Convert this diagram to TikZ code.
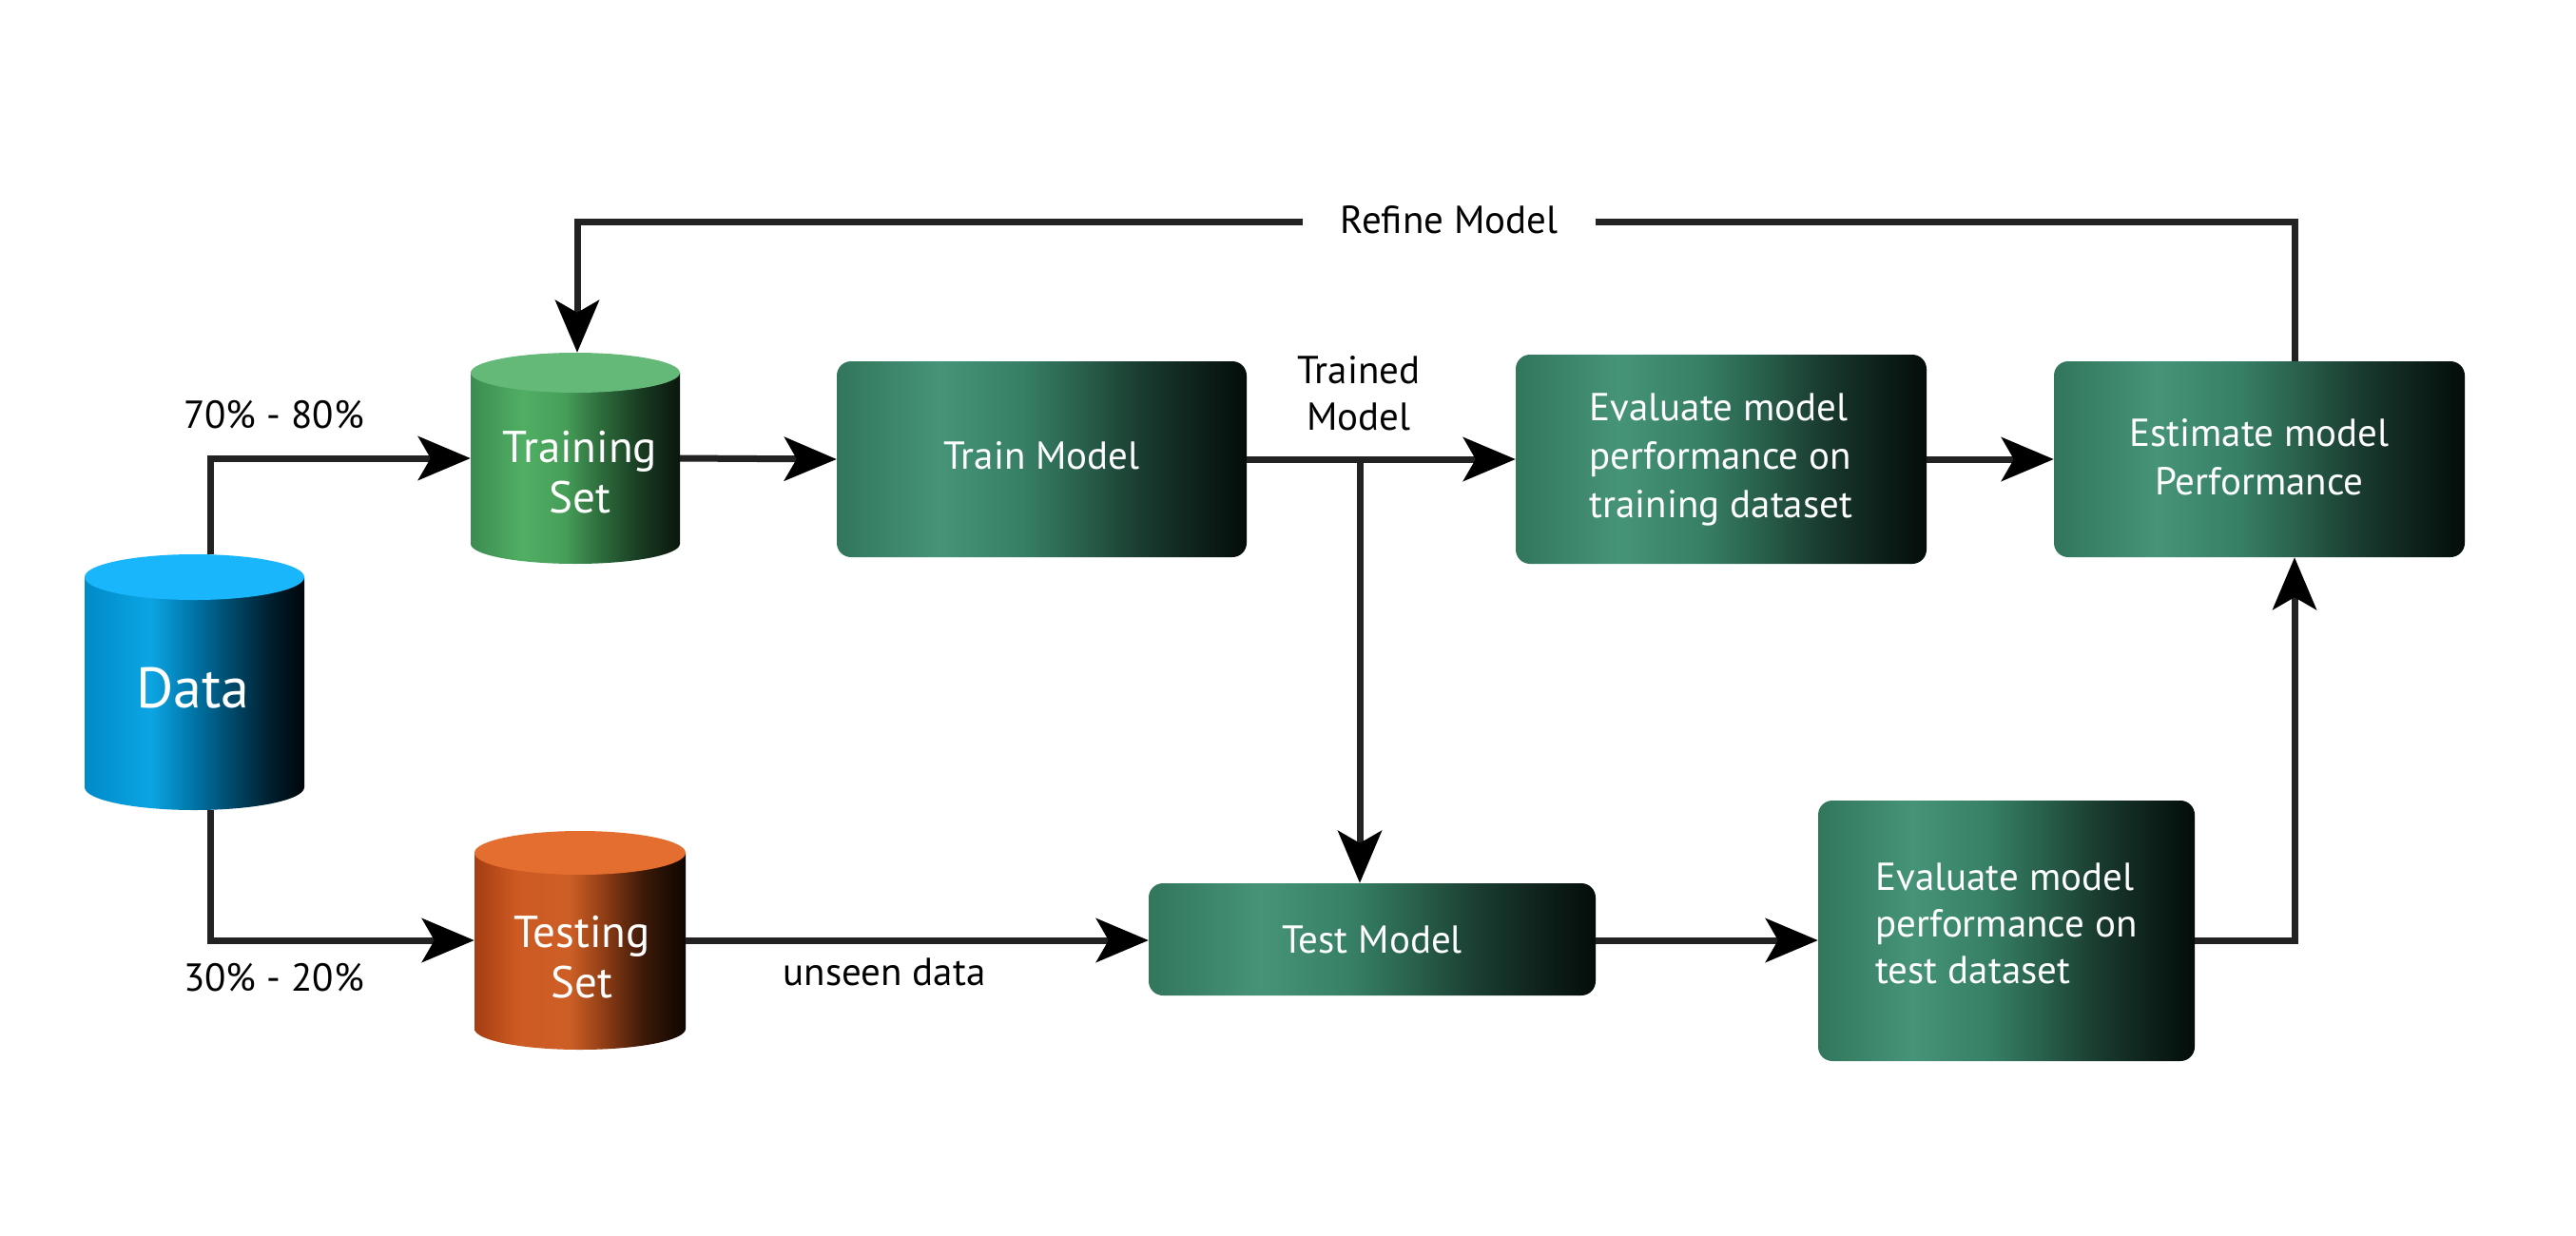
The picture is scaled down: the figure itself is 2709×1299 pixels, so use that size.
\documentclass[tikz,border=0pt]{standalone}
\usepackage{fontspec}
\setmainfont{PT Sans}
\usetikzlibrary{arrows.meta}

\definecolor{linec}{RGB}{34,34,34}
\definecolor{bx0}{RGB}{50,118,92}
\definecolor{bx1}{RGB}{70,148,120}
\definecolor{bx2}{RGB}{55,128,102}
\definecolor{bx3}{RGB}{40,95,75}
\definecolor{bx4}{RGB}{25,58,46}
\definecolor{bx5}{RGB}{12,30,24}
\definecolor{bx6}{RGB}{4,12,10}
\definecolor{bl0}{RGB}{0,138,200}
\definecolor{bl1}{RGB}{12,165,228}
\definecolor{bl2}{RGB}{0,115,165}
\definecolor{bl3}{RGB}{0,65,95}
\definecolor{bl4}{RGB}{0,30,45}
\definecolor{bl5}{RGB}{0,5,10}
\definecolor{bltop}{RGB}{26,182,252}
\definecolor{gr0}{RGB}{60,140,80}
\definecolor{gr1}{RGB}{80,175,100}
\definecolor{gr2}{RGB}{70,158,88}
\definecolor{gr3}{RGB}{45,108,60}
\definecolor{gr4}{RGB}{25,62,35}
\definecolor{gr5}{RGB}{10,22,12}
\definecolor{grtop}{RGB}{100,185,120}
\definecolor{or0}{RGB}{165,62,18}
\definecolor{or1}{RGB}{205,90,35}
\definecolor{or2}{RGB}{205,95,38}
\definecolor{or3}{RGB}{140,60,20}
\definecolor{or4}{RGB}{60,25,8}
\definecolor{or5}{RGB}{15,5,0}
\definecolor{ortop}{RGB}{228,110,48}

\pgfdeclarehorizontalshading{boxshade}{100bp}{color(0bp)=(bx0); color(25bp)=(bx0); color(37.5bp)=(bx1); color(47.5bp)=(bx2); color(55bp)=(bx3); color(62.5bp)=(bx4); color(70bp)=(bx5); color(75bp)=(bx6); color(100bp)=(bx6)}
\pgfdeclarehorizontalshading{blueshade}{100bp}{color(0bp)=(bl0); color(25bp)=(bl0); color(40bp)=(bl1); color(50bp)=(bl2); color(60bp)=(bl3); color(67.5bp)=(bl4); color(75bp)=(bl5); color(100bp)=(bl5)}
\pgfdeclarehorizontalshading{greenshade}{100bp}{color(0bp)=(gr0); color(25bp)=(gr0); color(37.5bp)=(gr1); color(47.5bp)=(gr2); color(56bp)=(gr3); color(65bp)=(gr4); color(75bp)=(gr5); color(100bp)=(gr5)}
\pgfdeclarehorizontalshading{orangeshade}{100bp}{color(0bp)=(or0); color(25bp)=(or0); color(35bp)=(or1); color(47.5bp)=(or2); color(56bp)=(or3); color(65bp)=(or4); color(75bp)=(or5); color(100bp)=(or5)}

\newcommand\boxfont{\fontsize{41}{51}\selectfont}
\newcommand\tightfont{\fontsize{41}{49}\selectfont}
\newcommand\cylfont{\fontsize{47}{53}\selectfont}
\newcommand\lblfont{\fontsize{41}{49}\selectfont}
\newcommand\bigfont{\fontsize{60}{70}\selectfont}

\begin{document}
\begin{tikzpicture}[x=1pt,y=-1pt,
  conn/.style={line width=7pt, draw=linec, -{Stealth[length=55pt,width=46pt,inset=13pt,color=black]}},
  gbox/.style={rounded corners=15pt, shading=boxshade, text=white, inner sep=0pt, align=left, font=\boxfont},
  lbl/.style={text=black, font=\lblfont, inner sep=0pt, align=center},
  cyltext/.style={text=white, inner sep=0pt, align=center},
  cylarea/.style={draw=none, inner sep=0pt}]

\useasboundingbox[fill=white] (0,0) rectangle (2709,1299);

% ---------- cylinders ----------
% Data
\shade[shading=blueshade] (89,607) -- (89,828) arc[start angle=180,end angle=360,x radius=115.5pt,y radius=24pt] -- (320,607) -- cycle;
\fill[bltop] (204.5,607) ellipse [x radius=115.5pt, y radius=24pt];
\node[cylarea, minimum width=231pt, minimum height=269pt] (data) at (204.5,717.5) {};
\node[cyltext, font=\bigfont] (datalbl) at (203,724) {Data};

% Training Set
\shade[shading=greenshade] (495,392) -- (495,572) arc[start angle=180,end angle=360,x radius=110pt,y radius=21pt] -- (715,392) -- cycle;
\fill[grtop] (605,392) ellipse [x radius=110pt, y radius=21pt];
\node[cylarea, minimum width=220pt, minimum height=222pt] (trainset) at (605,482) {};
\node[cyltext, font=\cylfont] (trainsetlbl) at (610,497) {Training\\Set};

% Testing Set
\shade[shading=orangeshade] (499,897) -- (499,1082) arc[start angle=180,end angle=360,x radius=111pt,y radius=22pt] -- (721,897) -- cycle;
\fill[ortop] (610,897) ellipse [x radius=111pt, y radius=23pt];
\node[cylarea, minimum width=222pt, minimum height=230pt] (testset) at (610,989) {};
\node[cyltext, font=\cylfont] (testsetlbl) at (612,1007) {Testing\\Set};

% ---------- boxes ----------
\node[gbox, text depth=8pt, minimum width=431pt, minimum height=206pt] (train) at (1095.5,483) {Train Model};
\node[gbox, minimum width=432pt, minimum height=220pt] (evaltrain) at (1810,483) {Evaluate model\\performance on\\training dataset};
\node[gbox, align=center, text depth=6pt, minimum width=432pt, minimum height=206pt] (estimate) at (2376,483) {Estimate model\\Performance};
\node[gbox, minimum width=470pt, minimum height=118pt] (testmodel) at (1443,988) {Test Model};
\node[gbox, font=\tightfont, text depth=16pt, minimum width=396pt, minimum height=274pt] (evaltest) at (2110,979) {Evaluate model\\performance on\\test dataset};

% ---------- connectors ----------
\draw[conn] ([xshift=16.5pt]data.north) |- (trainset.west);
\draw[conn] ([xshift=16.5pt]data.south) |- (testset.west);
\draw[conn] (trainset.east) -- (train.west);
\draw[conn] (train.east) -- (evaltrain.west);
\coordinate (branch) at (1430,483);
\draw[conn] (branch) -- (branch |- testmodel.north);
\draw[conn] (evaltrain.east) -- (estimate.west);
\draw[conn] (testset.east) -- (testset.east -| testmodel.west);
\draw[conn] (testset.east -| testmodel.east) -- (testset.east -| evaltest.west);
\coordinate (upx) at (2413,0);
\draw[conn] (testset.east -| evaltest.east) -| (upx |- estimate.south);
\coordinate (refR) at (2413,233);
\coordinate (refL) at (607,233);
\draw[conn] (upx |- estimate.north) -- (refR) -- (refL) -- (refL |- trainset.north);

% ---------- labels ----------
\node[lbl, fill=white, inner xsep=40pt, inner ysep=6pt] (refine) at (1524,231) {Refine Model};
\node[lbl] (splittop) at (288,436) {70\% - 80\%};
\node[lbl] (splitbot) at (288,1028) {30\% - 20\%};
\node[lbl] (trained) at (1429,414) {Trained\\Model};
\node[lbl] (unseen) at (930,1022) {unseen data};
\end{tikzpicture}
\end{document}
